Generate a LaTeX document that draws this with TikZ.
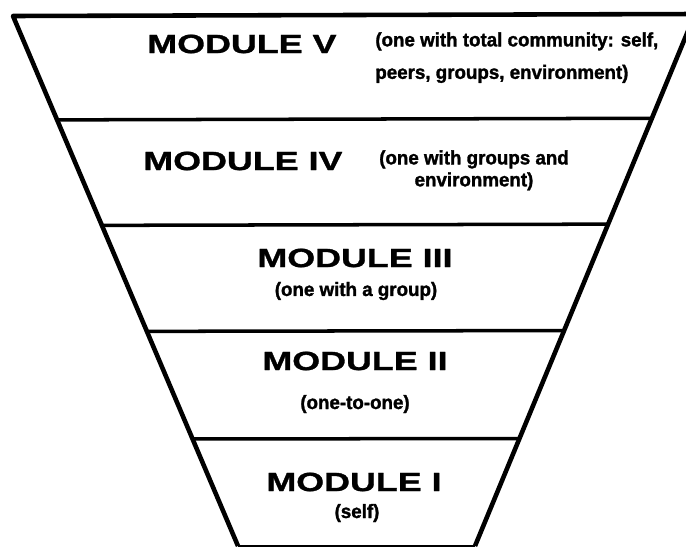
\documentclass[tikz,border=0pt]{standalone}
\usepackage{fontspec}
\newfontfamily\headfont{Liberation Sans}[FakeStretch=1.36,FakeBold=1.2]
\newfontfamily\notefont{Liberation Sans}[FakeStretch=0.97,FakeBold=1.5]
\usetikzlibrary{calc}

\begin{document}
\begin{tikzpicture}[x=0.02cm,y=-0.02cm,
  edge/.style={line width=2.6pt,line join=round},
  divider/.style={line width=2pt},
  head/.style={inner sep=0pt,font=\headfont\bfseries\fontsize{15}{15}\selectfont},
  note/.style={inner sep=0pt,align=center,font=\notefont\bfseries\fontsize{11}{12.5}\selectfont}]
\useasboundingbox (0,0) rectangle (686,548);
% funnel outline
\coordinate (tl) at (13,16);
\coordinate (tr) at (695,14);
\coordinate (bl) at (238,546);
\coordinate (br) at (475,546);
\draw[edge] (bl) -- (tl) -- (tr) -- (br);
\draw[line width=1.2pt] (bl) -- (br);
\foreach \f in {0.196,0.395,0.595,0.798}
  \draw[divider] ($(tl)!\f!(bl)$) -- ($(tr)!\f!(br)$);
% module V
\node[head,anchor=west] (m5) at (147,44) {MODULE V};
\node[note,anchor=north west,align=left] (m5note) at (375,32)
  {(one with total community: self,\\[6pt]peers, groups, environment)};
% module IV
\node[head,anchor=west] (m4) at (143,161) {MODULE IV};
\node[note,anchor=north] (m4note) at (474,150) {(one with groups and\\environment)};
% module III
\node[head] (m3) at (355,258) {MODULE III};
\node[note] (m3note) at (356,291) {(one with a group)};
% module II
\node[head] (m2) at (355,361) {MODULE II};
\node[note] (m2note) at (355,404) {(one-to-one)};
% module I
\node[head] (m1) at (354,482) {MODULE I};
\node[note] (m1note) at (357,513) {(self)};
\end{tikzpicture}
\end{document}
